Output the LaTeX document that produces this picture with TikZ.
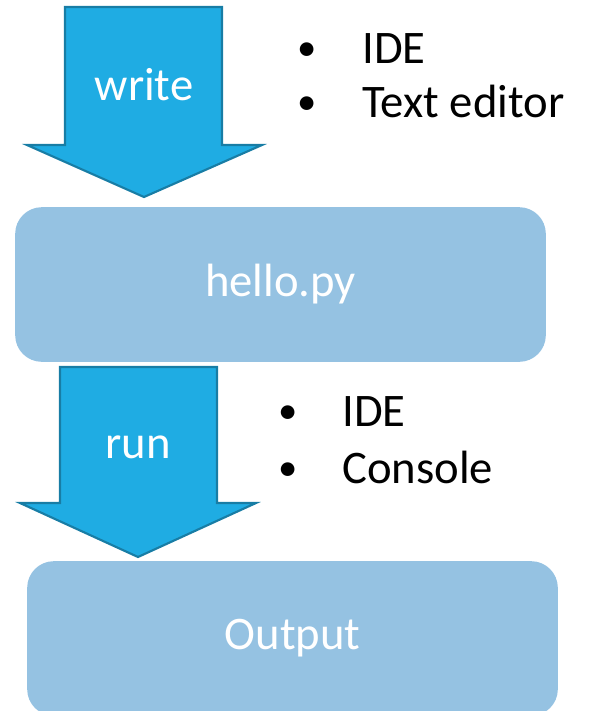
\documentclass[tikz,border=0pt]{standalone}
\usepackage{fontspec}
\setmainfont{Carlito}
\definecolor{arrowfill}{RGB}{31,172,227}
\definecolor{arrowline}{RGB}{24,125,165}
\definecolor{boxfill}{RGB}{149,194,226}
\begin{document}
\begin{tikzpicture}[x=0.75pt,y=-0.75pt,
  blockarrow/.style={fill=arrowfill,draw=arrowline,line width=1.6pt,line join=miter},
  box/.style={fill=boxfill,rounded corners=20pt,minimum width=398pt,minimum height=116pt,
    text=white,font=\fontsize{35}{42}\selectfont},
  lbl/.style={text=white,anchor=base,inner sep=0pt,font=\fontsize{35}{42}\selectfont},
  item/.style={anchor=base west,inner sep=0pt,font=\fontsize{35}{42}\selectfont},
  dot/.style={anchor=base,inner sep=0pt,font=\fontsize{29}{35}\selectfont}]
\useasboundingbox (0,0) rectangle (600,711);
  % write
  \draw[blockarrow] (65,7)--(222,7)--(222,145)--(262,145)--(144,197)--(27,145)--(65,145)--cycle;
  \node[lbl] (write) at (144,100) {write};
  \node[dot] (dot1) at (307,60) {•};
  \node[item] (ide1) at (362,63) {IDE};
  \node[dot] (dot2) at (307,114) {•};
  \node[item] (editor) at (362,117) {Text editor};
  \node[box] (hello) at (280.5,284.5) {hello.py};
  % run
  \draw[blockarrow] (60,367)--(217,367)--(217,503)--(256,503)--(138,557)--(20,503)--(60,503)--cycle;
  \node[lbl] (run) at (138,458) {run};
  \node[dot] (dot3) at (288,423) {•};
  \node[item] (ide2) at (342,426) {IDE};
  \node[dot] (dot4) at (288,480) {•};
  \node[item] (console) at (342,483) {Console};
  \node[box] (output) at (292.5,638.5) {Output};
\end{tikzpicture}
\end{document}
